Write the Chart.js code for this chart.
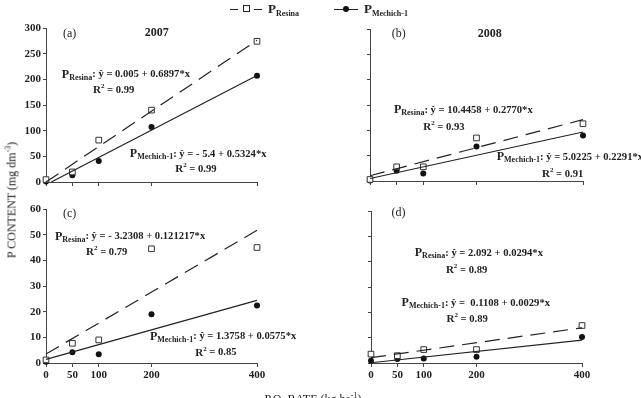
<!DOCTYPE html>
<html>
<head>
<meta charset="utf-8">
<script src="https://cdn.jsdelivr.net/npm/chart.js@4.4.0/dist/chart.umd.min.js"></script>
<style>
  body { margin: 0; background: #fff; }
  #wrap { position: relative; width: 641px; height: 398px; overflow: hidden; font-family: "Liberation Serif", serif; color: #222; }
  canvas { position: absolute; }
  .ytitle { position: absolute; left: 12px; top: 200px; transform: translate(-50%, -50%) rotate(-90deg); white-space: nowrap; font-size: 12px; }
  .xtitle { position: absolute; left: 313px; top: 392px; transform: translateX(-50%); white-space: nowrap; font-size: 12px; }
  sup { font-size: 8px; vertical-align: 5px; line-height: 0; }
  .leg { position: absolute; top: 1px; font-weight: bold; font-size: 13px; white-space: nowrap; }
  .leg sub { font-size: 8px; vertical-align: -3px; line-height: 0; }
  .seg { position: absolute; height: 0; border-top: 1.3px solid #222; }
  .sq { position: absolute; width: 5px; height: 5px; border: 1px solid #222; background: #fff; }
  .dot { position: absolute; width: 6px; height: 6px; border-radius: 50%; background: #111; }
</style>
</head>
<body>
<div id="wrap">
  <canvas id="ca" width="320" height="195" style="left:0;top:0"></canvas>
  <canvas id="cb" width="321" height="195" style="left:320px;top:0"></canvas>
  <canvas id="cc" width="320" height="203" style="left:0;top:195px"></canvas>
  <canvas id="cd" width="321" height="203" style="left:320px;top:195px"></canvas>

  <div class="seg" style="left:230px;top:9px;width:8px"></div>
  <div class="sq" style="left:243px;top:5px"></div>
  <div class="seg" style="left:254px;top:9px;width:8px"></div>
  <div class="leg" style="left:268px">P<sub>Resina</sub></div>
  <div class="seg" style="left:334px;top:9px;width:24px"></div>
  <div class="dot" style="left:343px;top:6px"></div>
  <div class="leg" style="left:364px">P<sub>Mechich-1</sub></div>

  <div class="ytitle">P CONTENT (mg dm<sup>-3</sup>)</div>
  <div class="xtitle">P.O. RATE (kg ha<sup>-1</sup>)</div>
</div>
<script>
const rates = [0, 50, 100, 200, 400];

// 2007 / 2008, measured points
const resinaA = [4.6, 19.6, 81.6, 140, 274];
const mechichA = [1, 13, 41, 107, 207];
const resinaB = [3, 28, 28, 85, 113];
const mechichB = [1, 20, 15, 68, 90];
const resinaC = [1.2, 7.7, 9, 44.5, 45];
const mechichC = [0.5, 4.2, 3.4, 19, 22.4];
const resinaD = [3.5, 2.9, 5.3, 5.3, 14.8];
const mechichD = [0.9, 1.6, 1.8, 2.5, 10.3];

// fitted lines, start and end
const fitX = [0, 400];
const fitMechichAX = [10.1, 400];
const fitResinaA = [0, 276];
const fitMechichA = [0, 207.6];
const fitResinaB = [10.4, 121.2];
const fitMechichB = [5.0, 96.7];
const fitResinaC = [3.5, 51.7];
const fitMechichC = [1.4, 24.4];
const fitResinaD = [2.1, 13.9];
const fitMechichD = [0.1, 9.0];

const ink = "#222";
const serif = "'Liberation Serif', serif";

function pts(xs, ys) {
  return xs.map((x, i) => ({ x: x, y: ys[i] }));
}

function eq(sub, rest) {
  return [
    { text: "P", font: "bold 12px " + serif },
    { text: sub, font: "bold 8px " + serif, dy: 3 },
    { text: ": " + rest, font: "bold 10.6px " + serif }
  ];
}
function r2(val) {
  return [
    { text: "R", font: "bold 11px " + serif },
    { text: "2", font: "bold 7px " + serif, dy: -4 },
    { text: " = " + val, font: "bold 10.6px " + serif }
  ];
}

const notesPlugin = {
  id: "notes",
  afterDatasetsDraw(chart, args, opts) {
    const ctx = chart.ctx;
    const xs = chart.scales.x, ys = chart.scales.y;
    (opts.items || []).forEach(n => {
      let px = xs.getPixelForValue(n.x);
      const py = ys.getPixelForValue(n.y);
      ctx.save();
      ctx.fillStyle = ink;
      ctx.textBaseline = "middle";
      ctx.textAlign = n.align || "left";
      n.runs.forEach(r => {
        ctx.font = r.font;
        ctx.fillText(r.text, px, py + (r.dy || 0));
        px += ctx.measureText(r.text).width;
      });
      ctx.restore();
    });
  }
};

function panel(id, resina, mechich, fitR, fitM, fitMX, yMax, yStep, showY, showX, area, notes) {
  const canvas = document.getElementById(id);
  const w = canvas.width, h = canvas.height;
  const tickFont = { family: serif, size: 11, weight: "bold" };
  return new Chart(canvas, {
    type: "scatter",
    data: {
      datasets: [
        {
          data: pts(fitX, fitR), showLine: true, borderColor: ink, borderWidth: 1.2,
          borderDash: [15, 8], pointRadius: 0
        },
        {
          data: pts(fitMX, fitM), showLine: true, borderColor: ink, borderWidth: 1.2,
          pointRadius: 0
        },
        {
          data: pts(rates, resina), pointStyle: "rect", pointRadius: 4,
          backgroundColor: "#fff", borderColor: "#333", borderWidth: 1
        },
        {
          data: pts(rates, mechich), pointStyle: "circle", pointRadius: 3,
          backgroundColor: "#111", borderColor: "#111", borderWidth: 0
        }
      ]
    },
    options: {
      responsive: false,
      animation: false,
      clip: false,
      layout: { padding: { left: 0, top: area.top, right: w - area.right, bottom: 0 } },
      plugins: { legend: { display: false }, tooltip: { enabled: false }, notes: { items: notes } },
      scales: {
        x: {
          type: "linear", min: 0, max: 400,
          afterBuildTicks: s => { s.ticks = rates.map(v => ({ value: v })); },
          afterFit: s => { s.height = h - area.bottom; },
          border: { color: "#444", width: 1 },
          grid: { drawOnChartArea: false, drawTicks: true, tickLength: 4, color: "#444" },
          ticks: { display: showX, color: ink, font: tickFont, padding: 2, maxRotation: 0 }
        },
        y: {
          min: 0, max: yMax,
          afterFit: s => { s.width = area.left; },
          border: { color: "#444", width: 1 },
          grid: { drawOnChartArea: false, drawTicks: true, tickLength: 3, color: "#444" },
          ticks: { display: showY, stepSize: yStep, color: ink, font: tickFont, padding: 2 }
        }
      }
    },
    plugins: [notesPlugin]
  });
}

panel("ca", resinaA, mechichA, fitResinaA, fitMechichA, fitMechichAX, 300, 50, true, false,
  { left: 46, top: 28, right: 257, bottom: 182 },
  [
    { x: 32, y: 289, runs: [{ text: "(a)", font: "12px " + serif }] },
    { x: 210, y: 290, align: "center", runs: [{ text: "2007", font: "bold 12px " + serif }] },
    { x: 30, y: 209, runs: eq("Resina", "ŷ = 0.005 + 0.6897*x") },
    { x: 89, y: 178, runs: r2("0.99") },
    { x: 159, y: 54, runs: eq("Mechich-1", "ŷ = - 5.4 + 0.5324*x") },
    { x: 245, y: 25, runs: r2("0.99") }
  ]);

panel("cb", resinaB, mechichB, fitResinaB, fitMechichB, fitX, 300, 50, false, false,
  { left: 50, top: 29, right: 263, bottom: 181 },
  [
    { x: 41, y: 291, runs: [{ text: "(b)", font: "12px " + serif }] },
    { x: 225, y: 290, align: "center", runs: [{ text: "2008", font: "bold 12px " + serif }] },
    { x: 45, y: 140, runs: eq("Resina", "ŷ = 10.4458 + 0.2770*x") },
    { x: 100, y: 107, runs: r2("0.93") },
    { x: 238, y: 47, runs: eq("Mechich-1", "ŷ = 5.0225 + 0.2291*x") },
    { x: 323, y: 14, runs: r2("0.91") }
  ]);

panel("cc", resinaC, mechichC, fitResinaC, fitMechichC, fitX, 60, 10, true, true,
  { left: 46, top: 14, right: 257, bottom: 168 },
  [
    { x: 32, y: 58, runs: [{ text: "(c)", font: "12px " + serif }] },
    { x: 17, y: 49.3, runs: eq("Resina", "ŷ = - 3.2308 + 0.121217*x") },
    { x: 76, y: 43, runs: r2("0.79") },
    { x: 197, y: 10.3, runs: eq("Mechich-1", "ŷ = 1.3758 + 0.0575*x") },
    { x: 283, y: 4, runs: r2("0.85") }
  ]);

panel("cd", resinaD, mechichD, fitResinaD, fitMechichD, fitX, 60, 10, false, true,
  { left: 51, top: 16, right: 262, bottom: 168 },
  [
    { x: 39, y: 59.3, runs: [{ text: "(d)", font: "12px " + serif }] },
    { x: 83, y: 43.3, runs: eq("Resina", "ŷ = 2.092 + 0.0294*x") },
    { x: 142, y: 36.7, runs: r2("0.89") },
    { x: 58, y: 23.6, runs: eq("Mechich-1", "ŷ =  0.1108 + 0.0029*x") },
    { x: 143, y: 17.2, runs: r2("0.89") }
  ]);
</script>
</body>
</html>
